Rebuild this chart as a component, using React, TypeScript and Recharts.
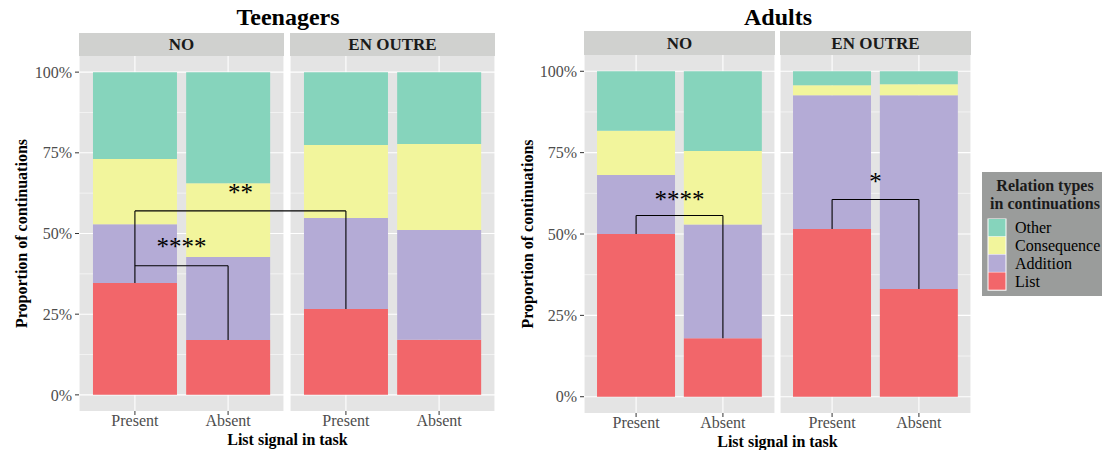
import React from "react";
import {
  Bar,
  BarChart,
  CartesianGrid,
  Label,
  ReferenceLine,
  XAxis,
  YAxis,
} from "recharts";

const SERIF = '"Liberation Serif", "Times New Roman", serif';
const PANEL_BG = "#E4E4E4";
const STRIP_BG = "#D0D1CF";
const INK = "#000000";

const signals = ["Present", "Absent"];
const stackOrder = ["List", "Addition", "Consequence", "Other"];
const legendOrder = ["Other", "Consequence", "Addition", "List"];
const relationColors: Record<string, string> = {
  List: "#F2666A",
  Addition: "#B4ABD6",
  Consequence: "#F2F59C",
  Other: "#86D4BC",
};

// share of continuations (%), one value per list signal
const teenNoList = [34.7, 17.0];
const teenNoAddition = [18.2, 25.7];
const teenNoConsequence = [20.2, 22.9];
const teenNoOther = [26.9, 34.4];

const teenEnOutreList = [26.6, 17.1];
const teenEnOutreAddition = [28.2, 34.0];
const teenEnOutreConsequence = [22.6, 26.6];
const teenEnOutreOther = [22.6, 22.3];

const adultNoList = [50.0, 18.0];
const adultNoAddition = [18.1, 34.9];
const adultNoConsequence = [13.6, 22.6];
const adultNoOther = [18.3, 24.5];

const adultEnOutreList = [51.5, 33.1];
const adultEnOutreAddition = [41.1, 59.5];
const adultEnOutreConsequence = [3.1, 3.4];
const adultEnOutreOther = [4.3, 4.0];

const yTicks = [0, 25, 50, 75, 100];
const yMinorTicks = [12.5, 37.5, 62.5, 87.5];

// significance brackets: height of the bar (%) and stars
const teenNoBracket = 40;
const teenNoStars = "****";
const teenCrossBracket = 57;
const teenCrossStars = "**";
const adultNoBracket = 55.7;
const adultNoStars = "****";
const adultEnOutreBracket = 60.6;
const adultEnOutreStars = "*";

type Row = { signal: string } & Record<string, number | string>;

function buildRows(
  list: number[],
  addition: number[],
  consequence: number[],
  other: number[]
): Row[] {
  return signals.map((signal, i) => ({
    signal,
    List: list[i],
    Addition: addition[i],
    Consequence: consequence[i],
    Other: other[i],
  }));
}

const teenNoRows = buildRows(teenNoList, teenNoAddition, teenNoConsequence, teenNoOther);
const teenEnOutreRows = buildRows(
  teenEnOutreList,
  teenEnOutreAddition,
  teenEnOutreConsequence,
  teenEnOutreOther
);
const adultNoRows = buildRows(adultNoList, adultNoAddition, adultNoConsequence, adultNoOther);
const adultEnOutreRows = buildRows(
  adultEnOutreList,
  adultEnOutreAddition,
  adultEnOutreConsequence,
  adultEnOutreOther
);

const X_AXIS_H = 34;
const STAR_SIZE = 25;

// vertical bracket leg at one bar
function leg(key: string, x: string, from: number, to: number) {
  return (
    <ReferenceLine
      key={key}
      segment={[
        { x, y: from },
        { x, y: to },
      ]}
      stroke={INK}
      strokeWidth={1.1}
    />
  );
}

// horizontal bracket bar between the two bars of a facet
function bridge(key: string, y: number, stars: string, offset: number) {
  return (
    <ReferenceLine
      key={key}
      segment={[
        { x: "Present", y },
        { x: "Absent", y },
      ]}
      stroke={INK}
      strokeWidth={1.1}
      label={
        <Label
          value={stars}
          position="top"
          offset={offset}
          fontSize={STAR_SIZE}
          fill={INK}
        />
      }
    />
  );
}

// bracket bar that runs on into the next facet
function crossBridge(key: string, y: number, stride: number, stars: string, offset: number) {
  const shape = (p: any) => (
    <g>
      <line x1={p.x1} y1={p.y1} x2={p.x1 + stride} y2={p.y1} stroke={INK} strokeWidth={1.1} />
      <text
        x={p.x1 + stride / 2}
        y={p.y1 - offset}
        textAnchor="middle"
        fontSize={STAR_SIZE}
        fill={INK}
      >
        {stars}
      </text>
    </g>
  );
  return (
    <ReferenceLine
      key={key}
      segment={[
        { x: "Present", y },
        { x: "Absent", y },
      ]}
      shape={shape}
    />
  );
}

interface FacetProps {
  rows: Row[];
  left: number;
  top: number;
  width: number;
  height: number;
  axisWidth?: number;
  z?: number;
  children?: React.ReactNode;
}

function Facet({ rows, left, top, width, height, axisWidth = 0, z = 1, children }: FacetProps) {
  // discrete scale expanded by 0.6 of a step on each side
  const step = width / 2.2;
  const pad = step * 0.6 - step / 2;
  const tickStyle = { fontSize: 16, fill: "#4D4D4D", fontFamily: SERIF };

  return (
    <div style={{ position: "absolute", left: left - axisWidth, top, zIndex: z }}>
      <BarChart
        width={width + axisWidth}
        height={height + X_AXIS_H}
        data={rows}
        margin={{ top: 0, right: 0, bottom: 0, left: 0 }}
        barCategoryGap="5%"
      >
        <CartesianGrid
          fill={PANEL_BG}
          fillOpacity={1}
          stroke="#FFFFFF"
          strokeWidth={0.55}
          vertical={false}
          horizontalValues={yMinorTicks}
        />
        <CartesianGrid stroke="#FFFFFF" strokeWidth={1.1} horizontalValues={yTicks} />
        <XAxis
          dataKey="signal"
          height={X_AXIS_H}
          padding={{ left: pad, right: pad }}
          interval={0}
          axisLine={false}
          tickSize={4}
          tickMargin={0}
          tickLine={{ stroke: "#333333" }}
          tick={tickStyle}
        />
        <YAxis
          type="number"
          domain={[-5, 105]}
          ticks={yTicks}
          hide={!axisWidth}
          width={axisWidth || 60}
          axisLine={false}
          tickSize={4}
          tickMargin={3}
          tickLine={{ stroke: "#333333" }}
          tick={tickStyle}
          tickFormatter={(v: number) => `${v}%`}
        />
        {stackOrder.map((key) => (
          <Bar
            key={key}
            dataKey={key}
            stackId="share"
            fill={relationColors[key]}
            isAnimationActive={false}
          />
        ))}
        {children}
      </BarChart>
    </div>
  );
}

function Strip({ x, y, w, h, text }: { x: number; y: number; w: number; h: number; text: string }) {
  return (
    <g>
      <rect x={x} y={y} width={w} height={h} fill={STRIP_BG} />
      <text
        x={x + w / 2}
        y={y + h / 2 + 5.8}
        textAnchor="middle"
        fontSize={17}
        fontWeight="bold"
        fill="#1A1A1A"
      >
        {text}
      </text>
    </g>
  );
}

function Legend() {
  const keyH = 17.8;
  const keyTop = 219;
  return (
    <g>
      <rect x={982} y={172} width={130} height={124} fill="#9A9C9B" />
      <text x={1045} y={191} textAnchor="middle" fontSize={16} fontWeight="bold" fill="#1A1A1A">
        Relation types
      </text>
      <text x={1045} y={208.5} textAnchor="middle" fontSize={16} fontWeight="bold" fill="#1A1A1A">
        in continuations
      </text>
      <rect x={987.5} y={keyTop - 0.5} width={19} height={keyH * 4 + 1} fill="#FFFFFF" />
      {legendOrder.map((name, i) => (
        <g key={name}>
          <rect x={988.5} y={keyTop + i * keyH} width={17} height={keyH - 0.5} fill={relationColors[name]} />
          <text x={1015} y={keyTop + i * keyH + keyH / 2 + 5.5} fontSize={16} fill="#000000">
            {name}
          </text>
        </g>
      ))}
    </g>
  );
}

export default function App() {
  return (
    <div
      style={{
        position: "absolute",
        left: 0,
        top: 0,
        width: 1102,
        height: 450,
        background: "#FFFFFF",
        fontFamily: SERIF,
        overflow: "hidden",
      }}
    >
      <style>{`.recharts-surface { overflow: visible; }`}</style>
      <svg width={1102} height={450} style={{ position: "absolute", left: 0, top: 0 }} fontFamily={SERIF}>
        <text x={288} y={25} textAnchor="middle" fontSize={24} fontWeight="bold">
          Teenagers
        </text>
        <text x={778} y={25} textAnchor="middle" fontSize={24} fontWeight="bold">
          Adults
        </text>

        <Strip x={79} y={33} w={205} h={23} text="NO" />
        <Strip x={290} y={33} w={205} h={23} text="EN OUTRE" />
        <Strip x={584} y={31} w={191} h={24} text="NO" />
        <Strip x={780} y={31} w={191} h={24} text="EN OUTRE" />

        <text x={287.5} y={445} textAnchor="middle" fontSize={16} fontWeight="bold">
          List signal in task
        </text>
        <text x={777.5} y={446.5} textAnchor="middle" fontSize={16} fontWeight="bold">
          List signal in task
        </text>
        <text transform="translate(27 233.5) rotate(-90)" textAnchor="middle" fontSize={16} fontWeight="bold">
          Proportion of continuations
        </text>
        <text transform="translate(533 234) rotate(-90)" textAnchor="middle" fontSize={16} fontWeight="bold">
          Proportion of continuations
        </text>

        <Legend />
      </svg>

      {/* Teenagers */}
      <Facet rows={teenNoRows} left={79} top={56} width={205} height={355} axisWidth={50} z={3}>
        {[
          leg("t-a", "Present", teenNoList[0], teenCrossBracket),
          leg("t-b", "Absent", teenNoBracket, teenNoList[1]),
          bridge("t-c", teenNoBracket, teenNoStars, 11),
          crossBridge("t-d", teenCrossBracket, 211, teenCrossStars, 9.5),
        ]}
      </Facet>
      <Facet rows={teenEnOutreRows} left={290} top={56} width={205} height={355} z={2}>
        {[leg("t-e", "Present", teenCrossBracket, teenEnOutreList[0])]}
      </Facet>

      {/* Adults */}
      <Facet rows={adultNoRows} left={584} top={55} width={191} height={358} axisWidth={50} z={3}>
        {[
          leg("a-a", "Present", adultNoList[0], adultNoBracket),
          leg("a-b", "Absent", adultNoBracket, adultNoList[1]),
          bridge("a-c", adultNoBracket, adultNoStars, 7.5),
        ]}
      </Facet>
      <Facet rows={adultEnOutreRows} left={780} top={55} width={191} height={358} z={2}>
        {[
          leg("a-d", "Present", adultEnOutreList[0], adultEnOutreBracket),
          leg("a-e", "Absent", adultEnOutreBracket, adultEnOutreList[1]),
          bridge("a-f", adultEnOutreBracket, adultEnOutreStars, 10),
        ]}
      </Facet>
    </div>
  );
}
